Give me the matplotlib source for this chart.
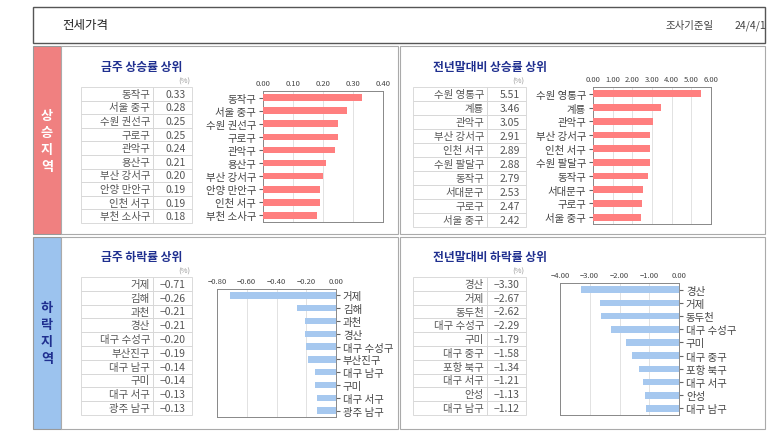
import matplotlib
matplotlib.use("Agg")
import matplotlib.pyplot as plt
from matplotlib.patches import Rectangle

plt.rcParams['font.family'] = ['Noto Sans CJK KR', 'DejaVu Sans']

W, H = 773, 435
tl_names = ["동작구", "서울 중구", "수원 권선구", "구로구", "관악구", "용산구", "부산 강서구", "안양 만안구", "인천 서구", "부천 소사구"]
tl_vals = [0.33, 0.28, 0.25, 0.25, 0.24, 0.21, 0.20, 0.19, 0.19, 0.18]
tr_names = ["수원 영통구", "계룡", "관악구", "부산 강서구", "인천 서구", "수원 팔달구", "동작구", "서대문구", "구로구", "서울 중구"]
tr_vals = [5.51, 3.46, 3.05, 2.91, 2.89, 2.88, 2.79, 2.53, 2.47, 2.42]
bl_names = ["거제", "김해", "과천", "경산", "대구 수성구", "부산진구", "대구 남구", "구미", "대구 서구", "광주 남구"]
bl_vals = [-0.71, -0.26, -0.21, -0.21, -0.20, -0.19, -0.14, -0.14, -0.13, -0.13]
br_names = ["경산", "거제", "동두천", "대구 수성구", "구미", "대구 중구", "포항 북구", "대구 서구", "안성", "대구 남구"]
br_vals = [-3.30, -2.67, -2.62, -2.29, -1.79, -1.58, -1.34, -1.21, -1.13, -1.12]
tl_ticks = [0.0, 0.1, 0.2, 0.3, 0.4]
tr_ticks = [0, 1, 2, 3, 4, 5, 6]
bl_ticks = [-0.8, -0.6, -0.4, -0.2, 0.0]
br_ticks = [-4, -3, -2, -1, 0]

fig = plt.figure(figsize=(W/100, H/100), dpi=100)
bg = fig.add_axes([0, 0, 1, 1])
bg.set_xlim(0, W); bg.set_ylim(H, 0); bg.axis('off')

def rect(x0, y0, x1, y1, fc='white', ec='#999999', lw=0.8, z=1):
    bg.add_patch(Rectangle((x0, y0), x1-x0, y1-y0, fc=fc, ec=ec, lw=lw, zorder=z))

rect(33, 8, 765, 44, ec='#555555', lw=1.0)
bg.text(62, 26, "전세가격", fontsize=9, va='center', color='#222222')
bg.text(665, 26, "조사기준일", fontsize=7.5, va='center', color='#444444')
bg.text(735, 26, "24/4/1", fontsize=7.5, va='center', color='#444444')

rect(33, 47, 61, 235, fc='#F08080', ec='#999999')
rect(33, 238, 61, 430, fc='#9CC3EE', ec='#999999')
for i, ch in enumerate("상승지역"):
    bg.text(47, 116 + i*17, ch, fontsize=9.5, color='white', fontweight='bold', ha='center', va='center')
for i, ch in enumerate("하락지역"):
    bg.text(47, 308 + i*17, ch, fontsize=9.5, color='#1F2F8F', fontweight='bold', ha='center', va='center')

for (x0, y0, x1, y1) in [(61, 47, 398, 235), (400, 47, 765, 235), (61, 238, 398, 430), (400, 238, 765, 430)]:
    rect(x0, y0, x1, y1, ec='#AAAAAA')

def table(x0, xs, x1, y0, y1, names, vals, title, ty):
    bg.text(x0 + 20, ty, title, fontsize=8.5, fontweight='bold', color='#1F2F8F', va='center')
    bg.text(x1 - 2, ty + 14, "(%)", fontsize=5.5, color='#999999', ha='right', va='center')
    n = len(names); h = (y1 - y0) / n
    for i in range(n):
        yy = y0 + i*h
        rect(x0, yy, xs, yy+h, ec='#D5D5D5', lw=0.6)
        rect(xs, yy, x1, yy+h, ec='#D5D5D5', lw=0.6)
        bg.text(xs - 3, yy + h/2, names[i], fontsize=7.5, color='#555555', ha='right', va='center')
        bg.text(x1 - 6, yy + h/2, f"{vals[i]:.2f}".replace('-', '\u2212'), fontsize=7.5, color='#555555', ha='right', va='center')

def chart(x0, x1, y0, y1, names, vals, ticks, color, right):
    ax = fig.add_axes([x0/W, 1 - y1/H, (x1-x0)/W, (y1-y0)/H])
    y = list(range(len(vals)))
    ax.barh(y, vals, height=0.5, color=color, zorder=3)
    ax.set_ylim(len(vals) - 0.5, -0.5)
    ax.set_xlim(ticks[0], ticks[-1])
    ax.set_xticks(ticks)
    ax.set_xticklabels([f"{t:.2f}".replace('-', '\u2212') for t in ticks], fontsize=5.5, color='#444444')
    ax.xaxis.tick_top()
    ax.tick_params(axis='x', length=0, pad=3)
    ax.set_yticks(y)
    ax.set_yticklabels(names, fontsize=7.5, color='#444444')
    ax.tick_params(axis='y', length=3, color='#666666', pad=2)
    if right:
        ax.yaxis.tick_right()
    ax.grid(axis='x', color='#DDDDDD', lw=0.6, zorder=0)
    for s in ax.spines.values():
        s.set_color('#888888'); s.set_linewidth(0.7)

table(81, 153, 192, 88, 224, tl_names, tl_vals, "금주 상승률 상위", 68)
chart(263, 383, 92, 223, tl_names, tl_vals, tl_ticks, '#FF7F7F', False)
table(413, 487, 526, 88, 228, tr_names, tr_vals, "전년말대비 상승률 상위", 68)
chart(593, 711, 88, 225, tr_names, tr_vals, tr_ticks, '#FF7F7F', False)
table(81, 153, 192, 278, 416, bl_names, bl_vals, "금주 하락률 상위", 258)
chart(217, 336, 290, 418, bl_names, bl_vals, bl_ticks, '#A6C8EF', True)
table(413, 487, 526, 278, 416, br_names, br_vals, "전년말대비 하락률 상위", 258)
chart(560, 679, 284, 416, br_names, br_vals, br_ticks, '#A6C8EF', True)

fig.savefig("out.png", dpi=100)
